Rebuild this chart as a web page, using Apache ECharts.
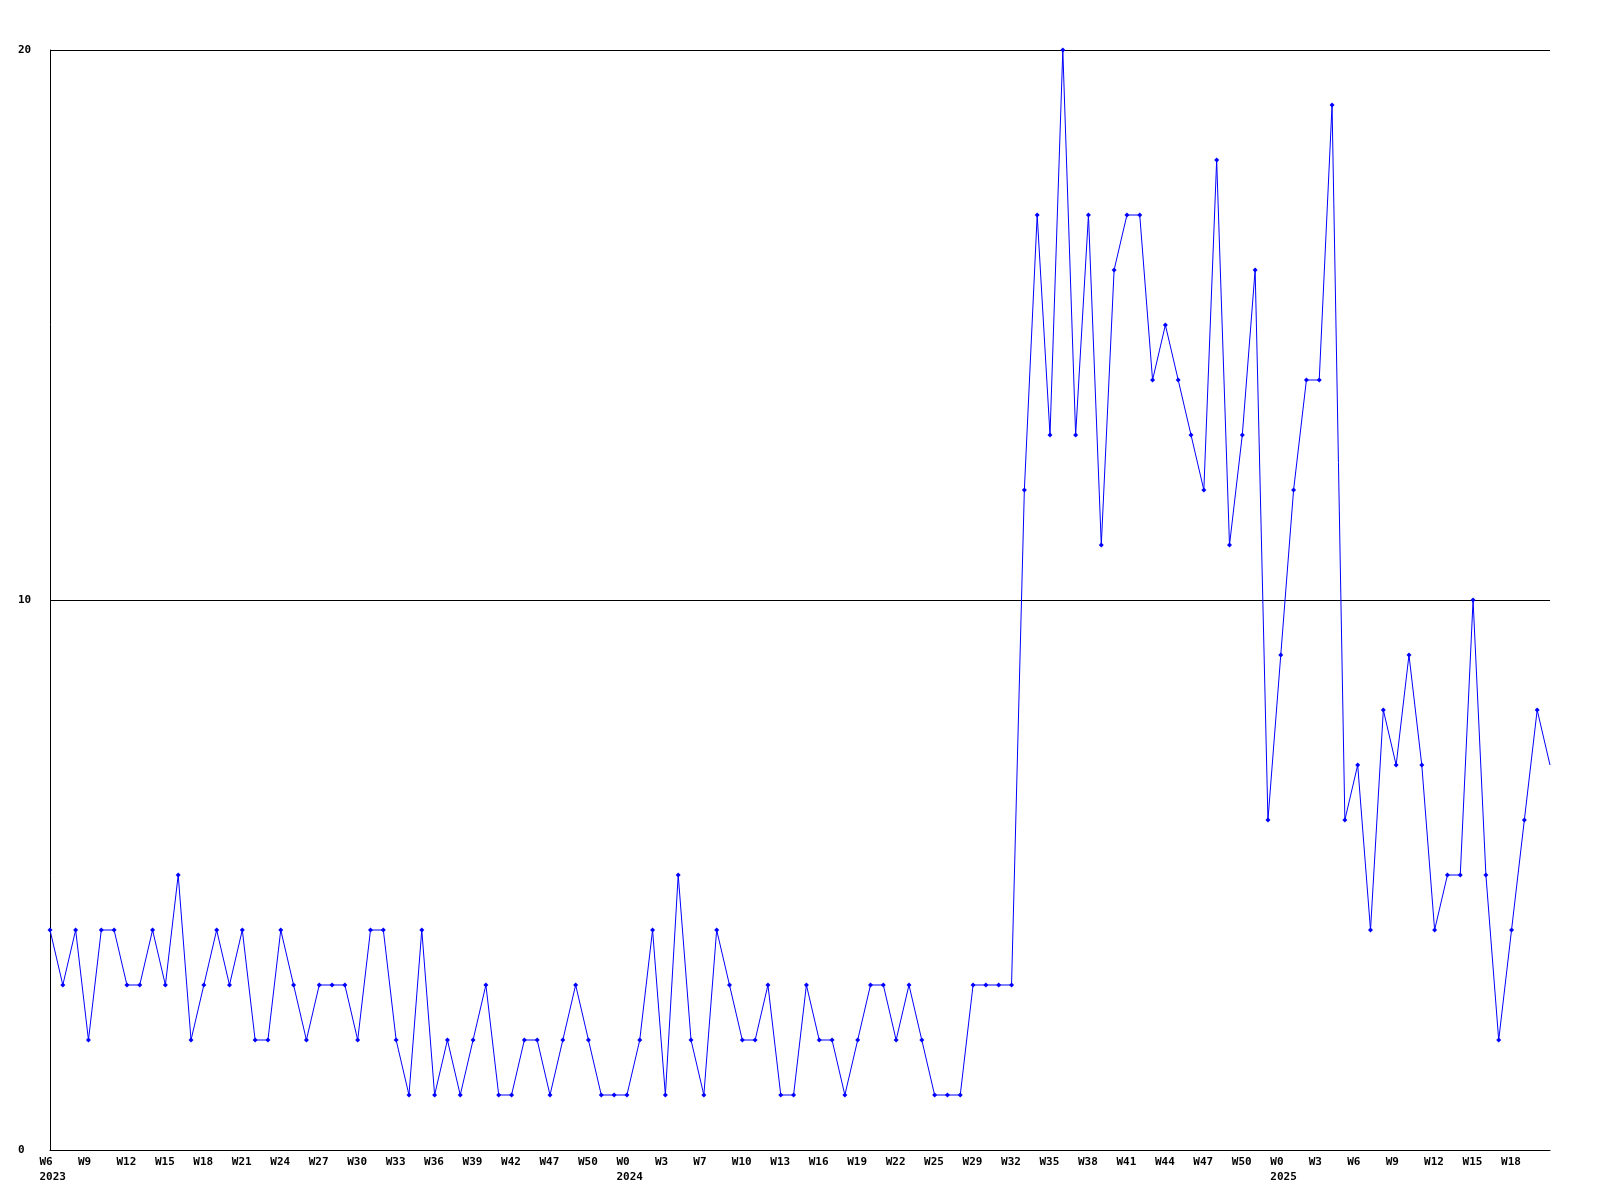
<!DOCTYPE html>
<html>
<head>
<meta charset="utf-8">
<script src="https://cdn.jsdelivr.net/npm/echarts@6/dist/echarts.min.js"></script>
<style>
html,body{margin:0;padding:0;background:#fff;}
#c{width:1600px;height:1200px;}
</style>
</head>
<body>
<div id="c"></div>
<script>
// weekly values, oldest first
const values = [
  4,3,4,2,4,4,3,3,4,3,
  5,2,3,4,3,4,2,2,4,3,
  2,3,3,3,2,4,4,2,1,4,
  1,2,1,2,3,1,1,2,2,1,
  2,3,2,1,1,1,2,4,1,5,
  2,1,4,3,2,2,3,1,1,3,
  2,2,1,2,3,3,2,3,2,1,
  1,1,3,3,3,3,12,17,13,20,
  13,17,11,16,17,17,14,15,14,13,
  12,18,11,13,16,6,9,12,14,14,
  19,6,7,4,8,7,9,7,4,5,
  5,10,5,2,4,6,8,7
];
// tick labels shown every 3rd point
const weekLabels = [
  "W6","W9","W12","W15","W18","W21","W24","W27","W30","W33","W36","W39","W42","W47",
  "W50","W0","W3","W7","W10","W13","W16","W19","W22","W25","W29","W32","W35","W38",
  "W41","W44","W47","W50","W0","W3","W6","W9","W12","W15","W18"
];
// year text under a given tick label (index into weekLabels)
const yearTicks = [0, 15, 32];
const yearNames = ["2023", "2024", "2025"];
const yTicks = [0, 10, 20];

const FONT = '"DejaVu Sans Mono", "Liberation Mono", monospace';
const cats = values.map((_, i) => String(i));
const labelStep = 3;

function tickLabel(i) {
  if (i % labelStep !== 0) return '';
  const k = i / labelStep;
  if (k >= weekLabels.length) return '';
  let s = weekLabels[k];
  const y = yearTicks.indexOf(k);
  if (y >= 0) s += '\n' + yearNames[y];
  return s;
}

const seriesData = values.map((v, i) => i === values.length - 1 ? {value: v, symbol: 'none'} : v);

const chart = echarts.init(document.getElementById('c'), null, {renderer: 'canvas'});
chart.setOption({
  animation: false,
  backgroundColor: '#ffffff',
  grid: [
    {left: 50, right: 50, top: 50, bottom: 50, containLabel: false},
    {left: 39.5, right: 60.5, top: 50, bottom: 50, containLabel: false}
  ],
  xAxis: [
    {
      gridIndex: 0, type: 'category', data: cats, boundaryGap: false,
      axisLine: {show: true, lineStyle: {color: '#000', width: 1}},
      axisTick: {show: false}, axisLabel: {show: false}, splitLine: {show: false}
    },
    {
      gridIndex: 1, type: 'category', data: cats, boundaryGap: false,
      axisLine: {show: false}, axisTick: {show: false}, splitLine: {show: false},
      axisLabel: {
        show: true, interval: 0, align: 'left', verticalAlign: 'top', margin: 5,
        color: '#000', fontFamily: FONT, fontSize: 11, fontWeight: 'bold', lineHeight: 15,
        formatter: (v, i) => tickLabel(i)
      }
    }
  ],
  yAxis: [
    {
      gridIndex: 0, type: 'value', min: yTicks[0], max: yTicks[yTicks.length - 1], interval: 10,
      axisLine: {show: true, lineStyle: {color: '#000', width: 1}},
      axisTick: {show: false},
      splitLine: {show: true, lineStyle: {color: '#000', width: 1}},
      axisLabel: {
        show: true, align: 'left', margin: 32, color: '#000',
        fontFamily: FONT, fontSize: 11, fontWeight: 'bold'
      }
    },
    {gridIndex: 1, type: 'value', min: 0, max: 20, show: false}
  ],
  series: [{
    type: 'line',
    xAxisIndex: 0, yAxisIndex: 0,
    data: seriesData,
    symbol: 'diamond', symbolSize: 5, showAllSymbol: true,
    lineStyle: {color: '#0000ff', width: 1},
    itemStyle: {color: '#0000ff'},
    emphasis: {disabled: true}
  }]
});
</script>
</body>
</html>
